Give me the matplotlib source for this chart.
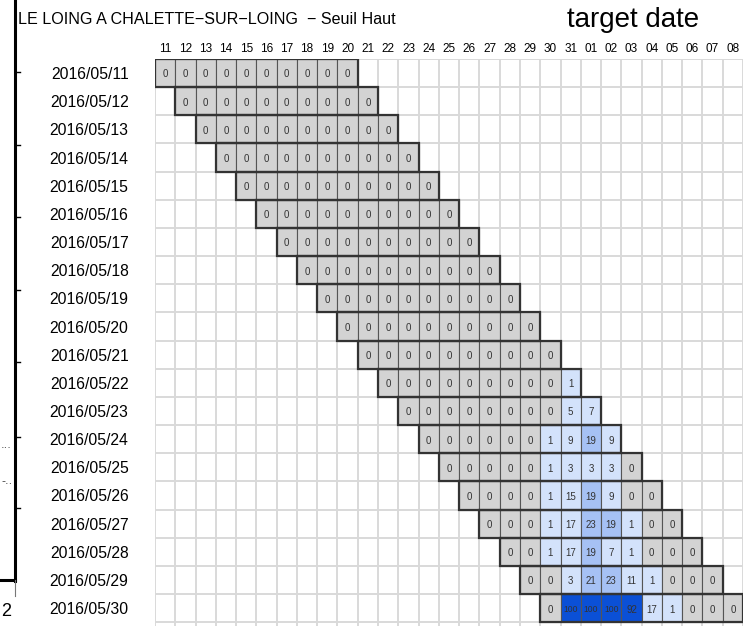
import matplotlib
matplotlib.use('Agg')
import matplotlib.pyplot as plt
from matplotlib.patches import Rectangle
from matplotlib.lines import Line2D

# ---------------- data ----------------
issue_dates = ['2016/05/11', '2016/05/12', '2016/05/13', '2016/05/14', '2016/05/15',
               '2016/05/16', '2016/05/17', '2016/05/18', '2016/05/19', '2016/05/20',
               '2016/05/21', '2016/05/22', '2016/05/23', '2016/05/24', '2016/05/25',
               '2016/05/26', '2016/05/27', '2016/05/28', '2016/05/29', '2016/05/30']
target_days = ['11', '12', '13', '14', '15', '16', '17', '18', '19', '20', '21', '22',
               '23', '24', '25', '26', '27', '28', '29', '30', '31',
               '01', '02', '03', '04', '05', '06', '07', '08']
# probabilities (%) for the 10 forecast days following each issue date
row_0511 = [0, 0, 0, 0, 0, 0, 0, 0, 0, 0]
row_0512 = [0, 0, 0, 0, 0, 0, 0, 0, 0, 0]
row_0513 = [0, 0, 0, 0, 0, 0, 0, 0, 0, 0]
row_0514 = [0, 0, 0, 0, 0, 0, 0, 0, 0, 0]
row_0515 = [0, 0, 0, 0, 0, 0, 0, 0, 0, 0]
row_0516 = [0, 0, 0, 0, 0, 0, 0, 0, 0, 0]
row_0517 = [0, 0, 0, 0, 0, 0, 0, 0, 0, 0]
row_0518 = [0, 0, 0, 0, 0, 0, 0, 0, 0, 0]
row_0519 = [0, 0, 0, 0, 0, 0, 0, 0, 0, 0]
row_0520 = [0, 0, 0, 0, 0, 0, 0, 0, 0, 0]
row_0521 = [0, 0, 0, 0, 0, 0, 0, 0, 0, 0]
row_0522 = [0, 0, 0, 0, 0, 0, 0, 0, 0, 1]
row_0523 = [0, 0, 0, 0, 0, 0, 0, 0, 5, 7]
row_0524 = [0, 0, 0, 0, 0, 0, 1, 9, 19, 9]
row_0525 = [0, 0, 0, 0, 0, 1, 3, 3, 3, 0]
row_0526 = [0, 0, 0, 0, 1, 15, 19, 9, 0, 0]
row_0527 = [0, 0, 0, 1, 17, 23, 19, 1, 0, 0]
row_0528 = [0, 0, 1, 17, 19, 7, 1, 0, 0, 0]
row_0529 = [0, 0, 3, 21, 23, 11, 1, 0, 0, 0]
row_0530 = [0, 100, 100, 100, 92, 17, 1, 0, 0, 0]
rows = [row_0511, row_0512, row_0513, row_0514, row_0515, row_0516, row_0517,
        row_0518, row_0519, row_0520, row_0521, row_0522, row_0523, row_0524,
        row_0525, row_0526, row_0527, row_0528, row_0529, row_0530]


def cell_color(v):
    if v == 0:
        return '#d3d3d3'
    if v < 18:
        return '#d3e2fb'
    if v < 50:
        return '#a6c1f4'
    return '#0b50d6'


W, H = 743, 626
fig = plt.figure(figsize=(W / 100, H / 100), dpi=100)
fig.patch.set_facecolor('white')

narrow = ['Liberation Sans Narrow', 'Liberation Sans', 'DejaVu Sans']
regular = ['Liberation Sans', 'DejaVu Sans']

# pixel geometry of the grid
x0, top = 155, 59
cw, rh = 20.5, 28.16
ax = fig.add_axes([x0 / W, 0, (W - x0) / W, (H - top) / H])
ax.set_xlim(-0.5, -0.5 + (W - x0) / cw)
ax.set_ylim(-0.5 + (H - top) / rh, -0.5)
for s in ax.spines.values():
    s.set_visible(False)

# background grid
ax.set_xticks([k - 0.5 for k in range(len(target_days) + 1)], minor=True)
ax.set_yticks([k - 0.5 for k in range(len(issue_dates) + 1)], minor=True)
ax.grid(which='minor', color='#d9d9d9', lw=1.4)
ax.tick_params(which='minor', length=0)
ax.set_axisbelow(True)

# tick labels
ax.set_xticks(range(len(target_days)))
ax.set_xticklabels(target_days, fontsize=8.5, family=narrow)
ax.xaxis.tick_top()
ax.tick_params(axis='x', which='major', length=0, pad=3)
ax.set_yticks(range(len(issue_dates)))
ax.set_yticklabels(issue_dates, fontsize=11.3, family=narrow)
ax.tick_params(axis='y', which='major', length=0, pad=19)

# cells
for i, vals in enumerate(rows):
    for j, v in enumerate(vals):
        c = i + j
        ax.add_patch(Rectangle((c - 0.5, i - 0.5), 1, 1, facecolor=cell_color(v),
                               edgecolor='#555555', lw=0.8, zorder=2))
        ax.text(c, i + 0.05, str(v), ha='center', va='center',
                fontsize=6.2 if v >= 100 else 7,
                color='#333333', family=narrow, zorder=4)
    ax.add_patch(Rectangle((i - 0.5, i - 0.5), len(vals), 1, facecolor='none',
                           edgecolor='#333333', lw=1.6, zorder=3))

# titles
fig.text(18 / W, 1 - 20 / H, 'LE LOING A CHALETTE\u2212SUR\u2212LOING  \u2212 Seuil Haut',
         fontsize=11.6, family=narrow, ha='left', va='center')
fig.text(567 / W, 1 - 20 / H, 'target date', fontsize=20, family=regular,
         ha='left', va='center')

# fragment of the neighbouring panel at the left edge
fig.add_artist(Line2D([15 / W, 15 / W], [1, 1 - 581 / H], color='black', lw=2.2,
                      transform=fig.transFigure))
fig.add_artist(Line2D([0, 15 / W], [1 - 580 / H, 1 - 580 / H], color='black', lw=2.2,
                      transform=fig.transFigure))
fig.add_artist(Line2D([15 / W, 15 / W], [1 - 580 / H, 1 - 596 / H], color='#777777',
                      lw=0.8, transform=fig.transFigure))
for ty in [72, 145, 217, 290, 362, 437, 508]:
    fig.add_artist(Line2D([15 / W, 20 / W], [1 - ty / H, 1 - ty / H], color='black',
                          lw=1.0, transform=fig.transFigure))
fig.text(1 / W, 1 - 445 / H, '...', fontsize=8, color='#444444', ha='left', va='center')
fig.text(1 / W, 1 - 481 / H, '-..', fontsize=8, color='#444444', ha='left', va='center')
fig.text(1 / W, 1 - 612 / H, '2', fontsize=13, family=regular, ha='left', va='center')

fig.savefig('out.png', dpi=100)
